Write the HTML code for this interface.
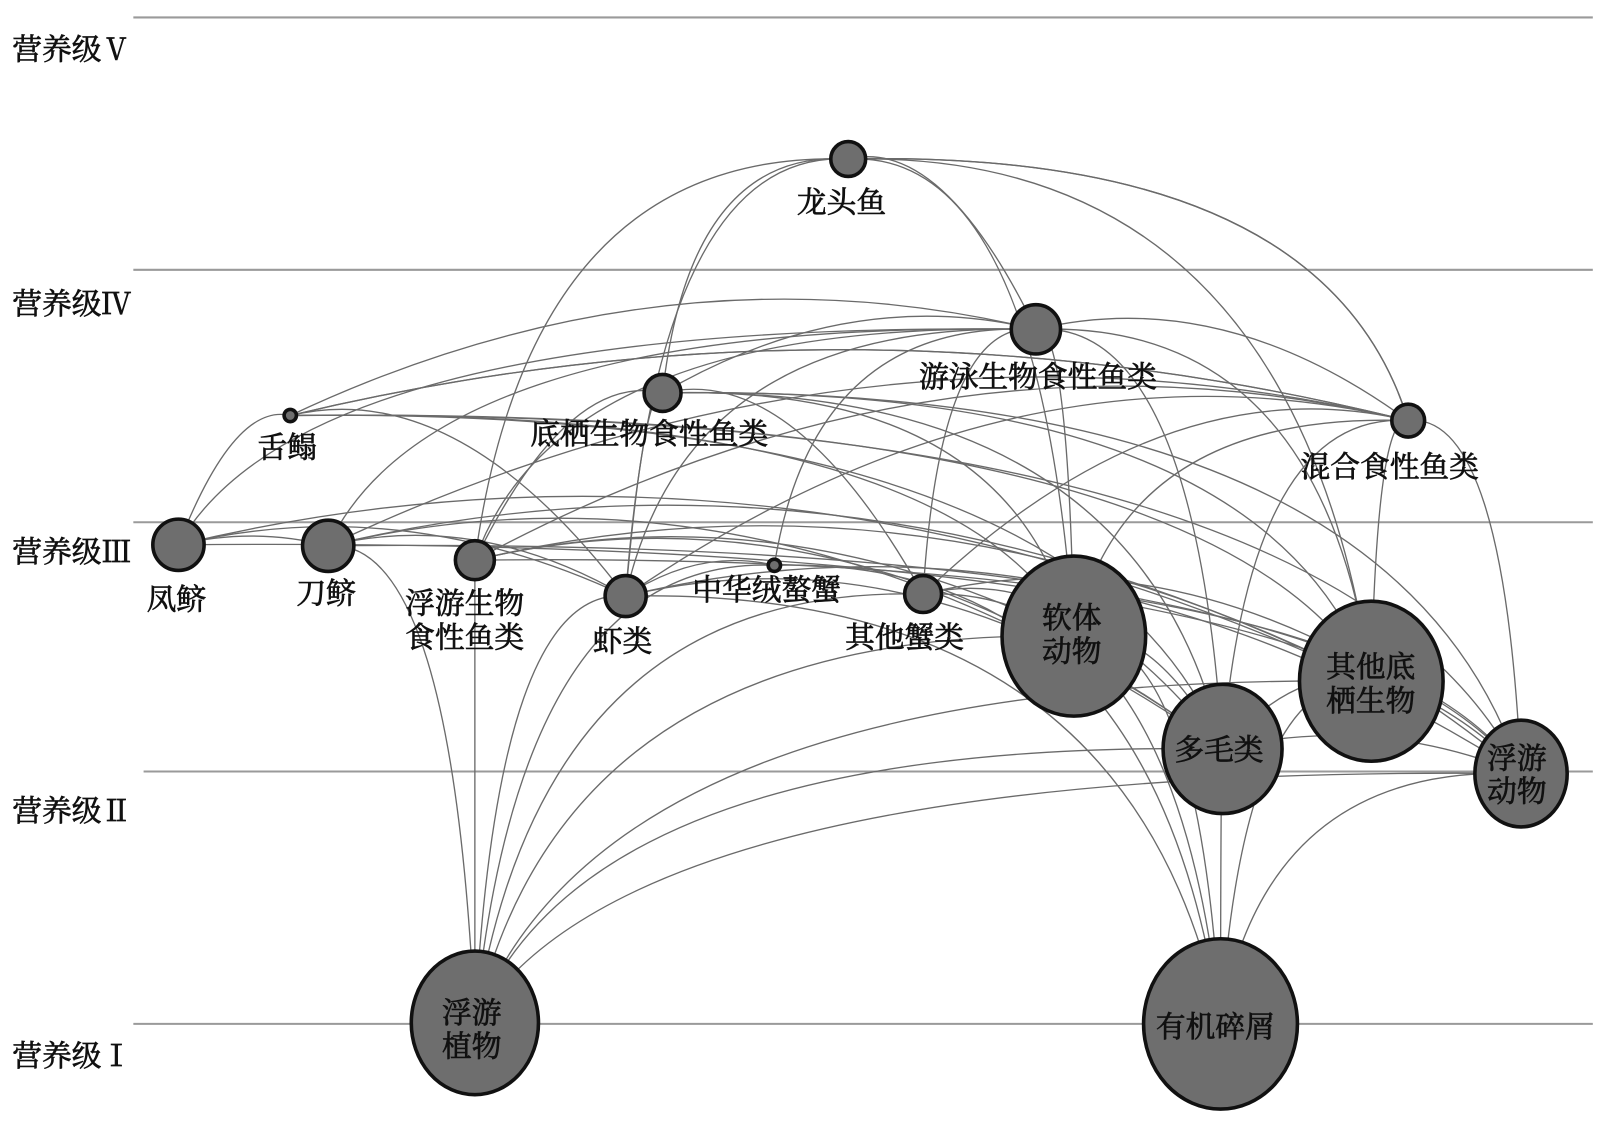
<!DOCTYPE html>
<html><head><meta charset="utf-8"><style>
html,body{margin:0;padding:0;background:#fff;width:1600px;height:1146px;overflow:hidden}
svg{display:block}
text{font-family:"Liberation Serif","Noto Serif CJK SC","Noto Sans CJK SC",serif;fill:#111;font-size:29px;stroke:#111;stroke-width:0.7}
</style></head><body>
<svg id="s" width="1600" height="1146" viewBox="0 0 1560 1117" preserveAspectRatio="none" xmlns="http://www.w3.org/2000/svg">
<g stroke="#9a9a9a" stroke-width="2">
<line x1="130" y1="17" x2="1553" y2="17"/>
<line x1="130" y1="263" x2="1553" y2="263"/>
<line x1="130" y1="509" x2="1553" y2="509"/>
<line x1="140" y1="752" x2="1553" y2="752"/>
<line x1="130" y1="998" x2="1553" y2="998"/>
</g>
<g id="edges" fill="none" stroke="#6a6a6a" stroke-width="1.3"></g>
<g id="nodes" fill="#6e6e6e" stroke="#111" stroke-width="3.5"></g>
<g>
<text x="12" y="58">营养级Ⅴ</text>
<text x="12" y="306">营养级Ⅳ</text>
<text x="12" y="548">营养级Ⅲ</text>
<text x="12" y="800">营养级Ⅱ</text>
<text x="12" y="1039">营养级Ⅰ</text>
<text x="777" y="207">龙头鱼</text>
<text x="896" y="377">游泳生物食性鱼类</text>
<text x="517" y="433">底栖生物食性鱼类</text>
<text x="251" y="446">舌鳎</text>
<text x="1268" y="465">混合食性鱼类</text>
<text x="143" y="594">凤鲚</text>
<text x="289" y="588">刀鲚</text>
<text x="395" y="598">浮游生物</text>
<text x="395" y="631">食性鱼类</text>
<text x="578" y="635">虾类</text>
<text x="675" y="585">中华绒螯蟹</text>
<text x="824" y="631">其他蟹类</text>
<text x="1016" y="612">软体</text>
<text x="1016" y="645">动物</text>
<text x="1293" y="660">其他底</text>
<text x="1293" y="693">栖生物</text>
<text x="1145" y="741">多毛类</text>
<text x="1450" y="749">浮游</text>
<text x="1450" y="781">动物</text>
<text x="431" y="997">浮游</text>
<text x="431" y="1030">植物</text>
<text x="1127" y="1011">有机碎屑</text>
</g>
</svg>
<script>
var N={
lt:[827,155,17,17],yy:[1010,321,24,24],dq:[646,383,18,18],sd:[283,405,6,6],hh:[1373,410,16,16],
fj:[174,531,25,25],dj:[320,532,25,25],fs:[463,546,19,19],xl:[610,581,20,20],zh:[755,551,6,6],
qx:[900,579,18,18],rt:[1047,620,70,78],qd:[1337,664,70,78],dm:[1192,730,58,63],fd:[1483,754,45,52],
fz:[463,997,62,70],yj:[1190,998,75,83]};
var E={lt:['yy','dq','hh','fs','xl','rt','qd','hh'],
yy:['sd','fj','dj','fs','xl','zh','qx','rt','dm','hh','dq','qd'],
dq:['xl','rt','dm','qd','qx','fd','fs'],
sd:['xl','dm','qd','hh','rt','fj','fd'],
hh:['dj','fs','xl','qx','rt','dm','qd','fd','sd'],
fj:['dj','fd','xl','qd'],
dj:['fd','fz','qd','xl','dm'],
fs:['fd','fz','qd','dm','rt'],
xl:['fz','yj','zh','dm','fd'],
zh:['fz','yj'],
qx:['fz','yj','dm','fd'],
rt:['fz','yj','dm'],
dm:['fz','yj'],
qd:['fz','yj','dm'],
fd:['fz','yj','dm']};
var ns="http://www.w3.org/2000/svg",eg=document.getElementById('edges'),ng=document.getElementById('nodes');
for(var a in E){E[a].forEach(function(b){var p=N[a],q=N[b];
var mx=(p[0]+q[0])/2,dx=Math.abs(p[0]-q[0]),dy=q[1]-p[1];
var cy=Math.min(p[1],q[1])-dx*0.12;var cx=mx;
if(dy>200){cx=q[0]+(p[0]-q[0])*0.15;cy=p[1]-10;}
var e=document.createElementNS(ns,'path');
e.setAttribute('d','M'+p[0]+' '+p[1]+' Q'+cx+' '+cy+' '+q[0]+' '+q[1]);eg.appendChild(e);});}
for(var k in N){var n=N[k],c=document.createElementNS(ns,'ellipse');
c.setAttribute('cx',n[0]);c.setAttribute('cy',n[1]);c.setAttribute('rx',n[2]);c.setAttribute('ry',n[3]);ng.appendChild(c);}
</script>
</body></html>
